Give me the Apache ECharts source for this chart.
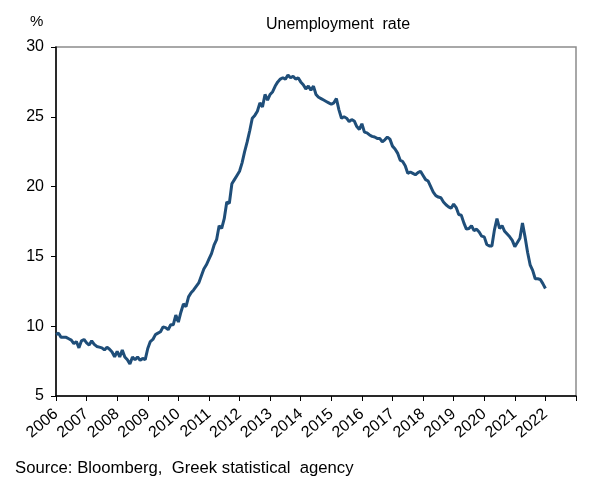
<!DOCTYPE html>
<html>
<head>
<meta charset="utf-8">
<script src="https://cdn.jsdelivr.net/npm/echarts@6/dist/echarts.min.js"></script>
<style>
  html, body { margin: 0; padding: 0; background: #fff; }
  #chart { width: 601px; height: 485px; }
</style>
</head>
<body>
<div id="chart"></div>
<script>
// monthly unemployment rate, Jan 2006 .. Jan 2022
const startYear = 2006
const endYear = 2023
const rate = [
  9.4, 9.5, 9.2, 9.2, 9.2, 9.1, 9.0, 8.75, 8.9, 8.45, 8.95, 9.05,
  8.8, 8.65, 8.95, 8.7, 8.55, 8.5, 8.45, 8.3, 8.5, 8.35, 8.15, 7.8,
  8.2, 7.8, 8.3, 7.8, 7.6, 7.3, 7.8, 7.6, 7.8, 7.55, 7.7, 7.6,
  8.4, 8.9, 9.05, 9.4, 9.5, 9.6, 9.95, 9.9, 9.75, 10.1, 10.1, 10.8,
  10.3, 11.0, 11.6, 11.4, 12.1, 12.4, 12.6, 12.85, 13.1, 13.6, 14.1, 14.4,
  14.8, 15.2, 15.8, 16.2, 17.2, 17.0, 17.7, 18.9, 18.8, 20.2, 20.5, 20.8,
  21.1, 21.7, 22.5, 23.2, 24.0, 24.9, 25.1, 25.4, 26.0, 25.7, 26.6, 26.2,
  26.6, 26.8, 27.2, 27.5, 27.7, 27.8, 27.7, 28.0, 27.8, 27.9, 27.7, 27.8,
  27.5, 27.3, 27.0, 27.2, 26.9, 27.2, 26.6, 26.4, 26.3, 26.2, 26.1, 26.0,
  25.9, 26.0, 26.3, 25.5, 24.9, 25.0, 24.9, 24.65, 24.8, 24.7, 24.3, 24.1,
  24.5, 23.9, 23.85, 23.7, 23.6, 23.55, 23.45, 23.45, 23.2, 23.35, 23.55, 23.4,
  22.9, 22.7, 22.4, 21.9, 21.8, 21.5, 20.95, 21.05, 20.95, 20.85, 21.0, 21.1,
  20.8, 20.5, 20.4, 20.0, 19.6, 19.35, 19.25, 19.2, 18.9, 18.7, 18.55, 18.45,
  18.75, 18.5, 18.0, 17.95, 17.4, 16.95, 17.0, 17.2, 16.85, 16.95, 16.75, 16.45,
  16.4, 15.85, 15.75, 15.75, 16.9, 17.7, 17.0, 17.2, 16.8, 16.6, 16.4, 16.15,
  15.7, 16.0, 16.3, 17.4, 16.4, 15.3, 14.4, 14.0, 13.4, 13.4, 13.35, 13.05,
  12.7
]
const yTicks = [5, 10, 15, 20, 25, 30]

// month categories, Jan 2006 .. Jan 2023
const months = []
for (let y = startYear; y <= endYear; y++) {
  for (let m = 1; m <= 12; m++) {
    if (y === endYear && m > 1) break
    months.push(y + '-' + (m < 10 ? '0' + m : m))
  }
}
const lastIdx = months.length - 1

const chart = echarts.init(document.getElementById('chart'))
chart.setOption({
  animation: false,
  textStyle: { fontFamily: 'Liberation Sans, Arial, sans-serif' },
  title: [
    {
      text: 'Unemployment  rate',
      left: 333, top: 12, textAlign: 'center',
      textStyle: { fontSize: 16, fontWeight: 'normal', color: '#000' }
    },
    {
      text: '%',
      left: 25, top: 9,
      textStyle: { fontSize: 15, fontWeight: 'normal', color: '#000' }
    },
    {
      text: 'Source: Bloomberg,  Greek statistical  agency',
      left: 10, top: 455,
      textStyle: { fontSize: 16.7, fontWeight: 'normal', color: '#000' }
    }
  ],
  grid: {
    left: 56, right: 25, top: 47, bottom: 89,
    show: true, borderColor: '#8c8c8c', borderWidth: 1.5
  },
  xAxis: {
    type: 'category',
    data: months,
    boundaryGap: false,
    axisLine: { lineStyle: { color: '#000', width: 1.5 } },
    axisTick: {
      length: 5,
      interval: (i) => i % 12 === 0,
      lineStyle: { color: '#000' }
    },
    axisLabel: {
      interval: (i) => i % 12 === 0 && i < lastIdx,
      formatter: (v) => v.slice(0, 4),
      rotate: 40,
      fontSize: 16,
      color: '#000',
      margin: 16
    },
    splitLine: { show: false }
  },
  yAxis: {
    type: 'value',
    min: yTicks[0],
    max: yTicks[yTicks.length - 1],
    interval: 5,
    axisLine: { show: true, lineStyle: { color: '#000', width: 1.5 } },
    axisTick: { show: true, length: 5, lineStyle: { color: '#000' } },
    axisLabel: { fontSize: 16, color: '#000', margin: 12 },
    splitLine: { show: false }
  },
  series: [
    {
      type: 'line',
      data: rate,
      showSymbol: false,
      lineStyle: { color: '#1F4E79', width: 3 }
    }
  ]
})
</script>
</body>
</html>
